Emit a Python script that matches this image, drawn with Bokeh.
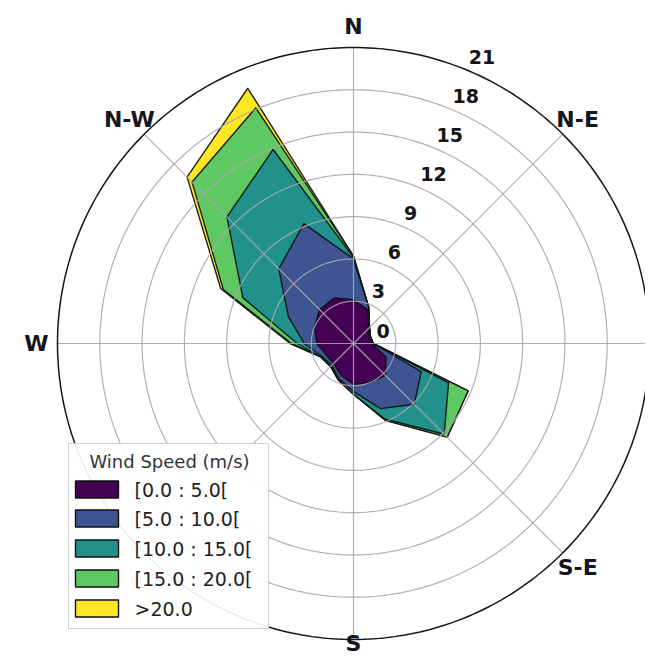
import numpy as np
from bokeh.plotting import figure
from bokeh.models import Range1d
from bokeh.core.properties import value
from bokeh.embed import file_html
from bokeh.resources import INLINE

# ---------------- data ----------------
directions = ["N", "NNE", "NE", "ENE", "E", "ESE", "SE", "SSE",
              "S", "SSW", "SW", "WSW", "W", "WNW", "NW", "NNW"]
dir_angles = [0.0, 22.5, 45.0, 67.5, 90.0, 112.5, 135.0, 157.5,
              180.0, 202.5, 225.0, 247.5, 270.0, 292.5, 315.0, 337.5]

speed_bins = ["[0.0 : 5.0[", "[5.0 : 10.0[", "[10.0 : 15.0[", "[15.0 : 20.0[", ">20.0"]
# frequency (%) per direction for each wind-speed bin
freq_0_5 = [3.1, 2.6, 1.5, 1.2, 1.3, 2.5, 3.2, 3.0, 2.9, 2.4, 2.0, 2.1, 2.6, 3.0, 3.4, 3.5]
freq_5_10 = [2.9, 0.2, 0.1, 0.1, 0.1, 2.7, 2.9, 2.0, 0.5, 0.3, 0.2, 0.3, 0.9, 2.0, 4.1, 5.7]
freq_10_15 = [0.1, 0.0, 0.0, 0.0, 0.0, 2.1, 3.0, 0.8, 0.2, 0.1, 0.1, 0.1, 0.5, 3.5, 5.2, 5.7]
freq_15_20 = [0.1, 0.0, 0.0, 0.0, 0.0, 1.5, 0.3, 0.1, 0.0, 0.0, 0.0, 0.0, 0.4, 1.5, 3.5, 3.2]
freq_20_up = [0.0, 0.0, 0.0, 0.0, 0.0, 0.0, 0.0, 0.0, 0.0, 0.0, 0.0, 0.0, 0.1, 0.2, 0.5, 1.5]

radial_ticks = [0, 3, 6, 9, 12, 15, 18, 21]
compass_labels = ["N", "N-E", "S-E", "S", "W", "N-W"]
compass_angles = [0, 45, 135, 180, 270, 315]

colors = ["#440154", "#3e5592", "#21918c", "#5ec962", "#fde725"]

# ---------------- geometry ----------------
W, H = 645, 656
CX, CY = 353, 343            # centre of the rose on the canvas (px)
RMAX = 21.0
S = 296.0 / RMAX             # px per %

p = figure(width=W, height=H, output_backend="svg", toolbar_location=None,
           x_axis_type=None, y_axis_type=None, min_border=0,
           x_range=Range1d(-CX / S, (W - CX) / S),
           y_range=Range1d(-(H - CY) / S, CY / S))
p.grid.visible = False
p.outline_line_color = None
p.background_fill_color = "white"
p.border_fill_color = "white"

FONT = "DejaVu Sans"


def pol(r, deg):
    t = np.radians(np.asarray(deg, dtype=float))
    r = np.asarray(r, dtype=float)
    return r * np.sin(t), r * np.cos(t)


def scr(px, py):
    # canvas pixel -> data coordinates
    return (px - CX) / S, (CY - py) / S


# ---------------- stacked filled polygons ----------------
layers = [freq_0_5, freq_5_10, freq_10_15, freq_15_20, freq_20_up]
cum = np.cumsum(np.array(layers, dtype=float), axis=0)
for i in reversed(range(len(layers))):
    xs, ys = pol(cum[i], dir_angles)
    p.patch(list(xs), list(ys), fill_color=colors[i], line_color="#0d0d0d",
            line_width=1.4, line_alpha=0.9)

# ---------------- grid ----------------
th = np.linspace(0, 360, 361)
cx_list, cy_list = [], []
for rt in radial_ticks[1:-1]:
    gx, gy = pol(np.full_like(th, rt), th)
    cx_list.append(list(gx))
    cy_list.append(list(gy))
for a in range(0, 360, 45):
    gx, gy = pol([0, RMAX], [a, a])
    cx_list.append(list(gx))
    cy_list.append(list(gy))
p.multi_line(cx_list, cy_list, line_color="#aaa6b0", line_width=1.2, line_alpha=0.9)

ox, oy = pol(np.full_like(th, RMAX), th)
p.line(list(ox), list(oy), line_color="#151515", line_width=1.5)

# ---------------- radial tick labels ----------------
lx, ly = pol(radial_ticks, [22.5] * len(radial_ticks))
x_offs = [23 if t == 0 else 2 for t in radial_ticks]
p.text(list(lx), list(ly), text=[str(t) for t in radial_ticks],
       text_font=value(FONT), text_font_style="bold", text_font_size="19px",
       text_color="#151515", text_align="left", text_baseline="middle",
       x_offset=x_offs, y_offset=-13)

# ---------------- compass labels ----------------
kx, ky = pol([317.0 / S] * len(compass_angles), compass_angles)
ymin_allowed = (CY - (H - 13)) / S
ky = np.maximum(ky, ymin_allowed)
p.text(list(kx), list(ky), text=compass_labels,
       text_font=value(FONT), text_font_style="bold", text_font_size="22px",
       text_color="#151520", text_align="center", text_baseline="middle")

# ---------------- legend ----------------
l0, t0 = scr(68, 443)
r0, b0 = scr(268, 628)
p.quad(left=[l0], right=[r0], top=[t0], bottom=[b0], fill_color="white",
       fill_alpha=0.92, line_color="#cfcfcf", line_width=1)

tx, ty = scr(169, 461)
p.text([tx], [ty], text=["Wind Speed (m/s)"], text_font=value(FONT),
       text_font_size="18px", text_color="#333340", text_align="center",
       text_baseline="middle")

row_y = [489, 518, 548, 578, 608]
rx0, _ = scr(75, 0)
rx1, _ = scr(118, 0)
for i, lab in enumerate(speed_bins):
    _, yt = scr(0, row_y[i] - 8.5)
    _, yb = scr(0, row_y[i] + 8.5)
    p.quad(left=[rx0], right=[rx1], top=[yt], bottom=[yb], fill_color=colors[i],
           line_color="#111111", line_width=1.4)
    xl, yl = scr(134, row_y[i])
    p.text([xl], [yl], text=[lab], text_font=value(FONT), text_font_size="19px",
           text_color="#222222", text_align="left", text_baseline="middle")

open("out.html", "w").write(file_html(p, INLINE))
